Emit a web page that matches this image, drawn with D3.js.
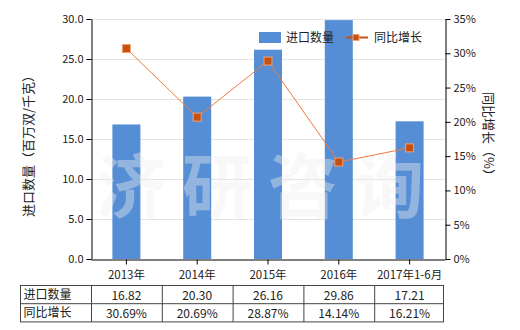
<!DOCTYPE html>
<html><head><meta charset="utf-8">
<script src="https://cdn.jsdelivr.net/npm/d3@7"></script>
<style>body{margin:0;background:#fff}svg{display:block;font-family:"Noto Sans CJK SC","Microsoft YaHei",sans-serif}</style>
</head><body><svg id="c" width="520" height="330"></svg>
<script>
const categories = ["2013年","2014年","2015年","2016年","2017年1-6月"];
const importQty = [16.82, 20.30, 26.16, 29.86, 17.21];
const yoyGrowth = [30.69, 20.69, 28.87, 14.14, 16.21];
const leftTicks = [0,5,10,15,20,25,30];
const rightTicks = [0,5,10,15,20,25,30,35];
const seriesNames = ["进口数量","同比增长"];

const svg = d3.select("#c");
const L = 91, R = 445, T = 19, B = 259;
const xc = d3.scaleBand().domain(categories).range([L, R]);
const yL = d3.scaleLinear().domain([0,30]).range([B, T]);
const yR = d3.scaleLinear().domain([0,35]).range([B, T]);

// gridlines
svg.append("g").selectAll("line").data(leftTicks.filter(d=>d>0)).join("line")
  .attr("x1", L).attr("x2", R).attr("y1", d=>yL(d)+0.5).attr("y2", d=>yL(d)+0.5)
  .attr("stroke", "#e3e3e3");

// bars
const bw = 28;
svg.append("g").selectAll("rect").data(importQty).join("rect")
  .attr("x", (d,i)=>xc(categories[i]) + xc.bandwidth()/2 - bw/2)
  .attr("width", bw)
  .attr("y", d=>yL(d)).attr("height", d=>B - yL(d))
  .attr("fill", "#558ed5");

// watermark
svg.append("text").attr("x", 268).attr("y", 213).attr("text-anchor","middle")
  .attr("font-size", 70).attr("font-weight", "bold").attr("letter-spacing", 16)
  .attr("fill", "#eeeeee").attr("fill-opacity", 0.4)
  .text("济研咨询");

// axes
const axL = svg.append("g").attr("transform", `translate(${L+0.5},0)`)
  .call(d3.axisLeft(yL).tickValues(leftTicks).tickFormat(d3.format(".1f")).tickSize(5).tickSizeOuter(0));
const axR = svg.append("g").attr("transform", `translate(${R+0.5},0)`)
  .call(d3.axisRight(yR).tickValues(rightTicks).tickFormat(d=>d+"%").tickSize(5).tickSizeOuter(0));
const axB = svg.append("g").attr("transform", `translate(0,${B+0.5})`)
  .call(d3.axisBottom(xc).tickSize(5).tickSizeOuter(0).tickPadding(6));
[axL, axR, axB].forEach(a=>{
  a.selectAll("path,line").attr("stroke", "#000");
  a.selectAll("text").attr("font-size", 11).attr("fill", "#222")
   .attr("font-family", "'Noto Sans CJK SC',sans-serif");
});
axB.selectAll("text").attr("font-size", 11.5);

// line
const line = d3.line().x((d,i)=>xc(categories[i]) + xc.bandwidth()/2).y(d=>yR(d));
svg.append("path").datum(yoyGrowth).attr("d", line).attr("fill","none")
  .attr("stroke", "#f07a3a").attr("stroke-width", 1);
svg.append("g").selectAll("rect").data(yoyGrowth).join("rect")
  .attr("x", (d,i)=>xc(categories[i]) + xc.bandwidth()/2 - 4)
  .attr("y", d=>yR(d)-4).attr("width", 8).attr("height", 8)
  .attr("fill", "#c5500f").attr("stroke", "#f4a070").attr("stroke-width", 1);

// axis titles
svg.append("text").attr("transform", "translate(33,143) rotate(-90)")
  .attr("text-anchor","middle").attr("font-size", 13).attr("fill","#222")
  .text("进口数量（百万双/千克）");
svg.append("text").attr("transform", "translate(484,137) rotate(90)")
  .attr("text-anchor","middle").attr("font-size", 13).attr("fill","#222")
  .text("同比增长（%）");

// legend
const lg = svg.append("g");
lg.append("rect").attr("x", 259).attr("y", 32).attr("width", 22).attr("height", 11).attr("fill", "#558ed5");
lg.append("text").attr("x", 286).attr("y", 42).attr("font-size", 12).attr("fill","#222").text(seriesNames[0]);
lg.append("line").attr("x1", 346).attr("x2", 368).attr("y1", 37.5).attr("y2", 37.5).attr("stroke", "#c5500f").attr("stroke-width", 2);
lg.append("rect").attr("x", 353).attr("y", 34.5).attr("width", 6).attr("height", 6).attr("fill", "#c5500f").attr("stroke", "#f4a070");
lg.append("text").attr("x", 374).attr("y", 42).attr("font-size", 12).attr("fill","#222").text(seriesNames[1]);

// data table
const tL = 20.5, tT = 285.5, rowH = 18.2, tR = 443.5;
const tbl = svg.append("g");
const rows = [importQty.map(d=>d.toFixed(2)), yoyGrowth.map(d=>d.toFixed(2)+"%")];
tbl.append("rect").attr("x", tL).attr("y", tT).attr("width", tR-tL).attr("height", rowH*2)
  .attr("fill","none").attr("stroke","#444");
tbl.append("line").attr("x1", tL).attr("x2", tR).attr("y1", tT+rowH).attr("y2", tT+rowH).attr("stroke","#444");
categories.forEach(c=>{
  tbl.append("line").attr("x1", xc(c)+0.5).attr("x2", xc(c)+0.5).attr("y1", tT).attr("y2", tT+rowH*2).attr("stroke","#444");
});
rows.forEach((r,ri)=>{
  tbl.append("text").attr("x", tL+3).attr("y", tT + rowH*ri + 13.5).attr("font-size", 12).attr("fill","#222").text(seriesNames[ri]);
  r.forEach((v,i)=>{
    tbl.append("text").attr("x", xc(categories[i]) + xc.bandwidth()/2).attr("y", tT + rowH*ri + 14)
      .attr("text-anchor","middle").attr("font-size", 12).attr("fill","#222").text(v);
  });
});
</script></body></html>
